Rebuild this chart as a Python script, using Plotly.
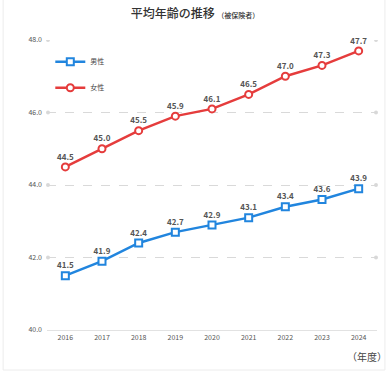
import plotly.graph_objects as go

years = ["2016", "2017", "2018", "2019", "2020", "2021", "2022", "2023", "2024"]
male = [41.5, 41.9, 42.4, 42.7, 42.9, 43.1, 43.4, 43.6, 43.9]
female = [44.5, 45.0, 45.5, 45.9, 46.1, 46.5, 47.0, 47.3, 47.7]
y_ticks = [40.0, 42.0, 44.0, 46.0, 48.0]

BLUE = "#2185de"
RED = "#e53c3c"
FONT = "Noto Sans CJK JP"

fig = go.Figure()
fig.add_trace(go.Scatter(
    x=years, y=male, name="男性", mode="lines+markers+text", legendgroup="m",
    line=dict(color=BLUE, width=2.5),
    marker=dict(symbol="square", size=7, color="white", line=dict(color=BLUE, width=2)),
    text=[f"{v:.1f}" for v in male], textposition="top center",
    textfont=dict(size=8, color="#555", family=FONT, weight="bold"), cliponaxis=False,
))
fig.add_trace(go.Scatter(
    x=years, y=female, name="女性", mode="lines+markers+text", legendgroup="f",
    line=dict(color=RED, width=2.5),
    marker=dict(symbol="circle", size=7, color="white", line=dict(color=RED, width=2)),
    text=[f"{v:.1f}" for v in female], textposition="top center",
    textfont=dict(size=8, color="#555", family=FONT, weight="bold"), cliponaxis=False,
))

shapes = [dict(type="rect", xref="paper", yref="paper", x0=-0.133, x1=1.024, y0=-0.138, y1=1.15,
               line=dict(color="#ececec", width=1), fillcolor="rgba(0,0,0,0)", layer="below")]
for t in y_ticks[1:]:
    for xp in (0.003, 0.997):
        shapes.append(dict(type="circle", xref="paper", yref="y", x0=xp - 0.006, x1=xp + 0.006,
                           y0=t - 0.055, y1=t + 0.055, fillcolor="#d8d8d8", line=dict(width=0)))
fig.update_layout(shapes=shapes)

fig.update_layout(
    width=390, height=377,
    margin=dict(l=47, r=13, t=40, b=47),
    paper_bgcolor="white", plot_bgcolor="white",
    font=dict(family=FONT, color="#444"),
    title=dict(text="平均年齢の推移 <span style='font-size:7px'>（被保険者）</span>",
               x=0.5, xanchor="center", y=0.963, yanchor="middle",
               font=dict(size=12, color="#333", family=FONT, weight=500)),
    showlegend=True,
    legend=dict(x=0.01, y=0.975, xanchor="left", yanchor="top", font=dict(size=7, color="#444"),
                itemwidth=30, tracegroupgap=7, bgcolor="rgba(0,0,0,0)"),
    xaxis=dict(type="category", range=[-0.5, 8.5], showgrid=False, showline=True,
               linecolor="#e2e2e2", linewidth=1, ticks="", tickfont=dict(size=7, color="#555"),
               ticklabelstandoff=1, zeroline=False),
    yaxis=dict(range=[40, 48], tickvals=y_ticks, ticktext=[f"{v:.1f}" for v in y_ticks],
               showgrid=True, gridcolor="#d9d9d9", griddash="dash", gridwidth=1,
               zeroline=False, showline=False, tickfont=dict(size=7, color="#555"),
               ticklabelstandoff=4),
    annotations=[dict(text="（年度）", xref="paper", yref="paper", x=1.035, y=-0.09,
                      xanchor="right", yanchor="middle", showarrow=False,
                      font=dict(size=10, color="#444", family=FONT))],
)

fig.write_html("out.html", post_script="document.body.style.margin='0';",
               config={"displayModeBar": False})
